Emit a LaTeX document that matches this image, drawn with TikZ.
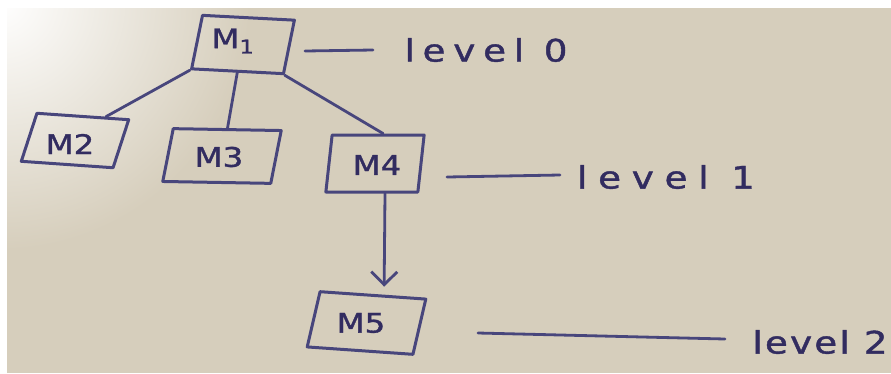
\documentclass[tikz,border=0pt]{standalone}
\usepackage{fontspec}
\usetikzlibrary{arrows.meta,calc}
\newfontfamily\hand[FakeBold=1.2]{DejaVu Sans}
\definecolor{paper}{RGB}{214,206,188}
\definecolor{ink}{RGB}{72,70,124}
\definecolor{inkdark}{RGB}{50,44,96}

\begin{document}
\begin{tikzpicture}[x=1pt,y=-1pt,
  box/.style={draw=ink,line width=3pt,inner sep=0pt,line join=round},
  mlabel/.style={text=inkdark,inner sep=0pt,xscale=1.2,font=\hand\fontsize{27}{27}\selectfont},
  levellabel/.style={text=inkdark,inner sep=0pt,xscale=1.2,font=\hand\fontsize{31}{31}\selectfont},
  link/.style={draw=ink,line width=2.8pt,line cap=round},
  levelrule/.style={draw=ink,line width=2.8pt,line cap=round}]

% paper sheet
\useasboundingbox (0,0) rectangle (891,373);
\fill[paper] (0,0) rectangle (891,373);
\begin{scope}
  \clip (0,0) rectangle (891,373);
  \shade[inner color=white,outer color=paper] (0,0) circle (250);
\end{scope}
\fill[white] (0,0) rectangle (891,8);
\fill[white] (0,0) rectangle (7,373);

% module boxes
\node[box,minimum width=92pt,minimum height=54pt,rotate=-3,xslant=0.15] (m1) at (243,44.5) {};
\node[box,minimum width=92pt,minimum height=49pt,rotate=-4,xslant=0.25] (m2) at (75,140.5) {};
\node[box,minimum width=108pt,minimum height=53pt,rotate=-1,xslant=0.18] (m3) at (222,156) {};
\node[box,minimum width=92pt,minimum height=57pt,xslant=0.11] (m4) at (375,163.5) {};
\node[box,minimum width=106pt,minimum height=56pt,rotate=-4,xslant=0.16] (m5) at (366.5,323) {};

% module names
\node[mlabel] (t1) at (233,41) {M\textsubscript{1}};
\node[mlabel] (t2) at (70,144) {M2};
\node[mlabel] (t3) at (219,157) {M3};
\node[mlabel] (t4) at (377,165) {M4};
\node[mlabel] (t5) at (361,323) {M5};

% call structure
\draw[link] (m1.south west) -- ($(m2.north west)!0.74!(m2.north east)$);
\draw[link] (m1.south) -- (m3.north);
\draw[link] (m1.south east) -- ($(m4.north west)!0.55!(m4.north east)$);
\draw[link,-{Straight Barb[length=13pt,width=26pt]}]
  ($(m4.south west)!0.64!(m4.south east)$) -- ($(m5.north west)!0.6!(m5.north east)+(0,-8)$);

% level markers
\coordinate (r0a) at (305,51);  \coordinate (r0b) at (373,50);
\coordinate (r1a) at (447,177); \coordinate (r1b) at (560,175);
\coordinate (r2a) at (478,333); \coordinate (r2b) at (725,339);
\draw[levelrule] (r0a) -- (r0b);
\draw[levelrule] (r1a) -- (r1b);
\draw[levelrule] (r2a) -- (r2b);

\node[levellabel] (lv0) at (486,50) {\addfontfeature{LetterSpace=21}level 0};
\node[levellabel] (lv1) at (666,177) {\addfontfeature{LetterSpace=29}level 1};
\node[levellabel] (lv2) at (820,342) {\addfontfeature{LetterSpace=6}level 2};
\end{tikzpicture}
\end{document}
